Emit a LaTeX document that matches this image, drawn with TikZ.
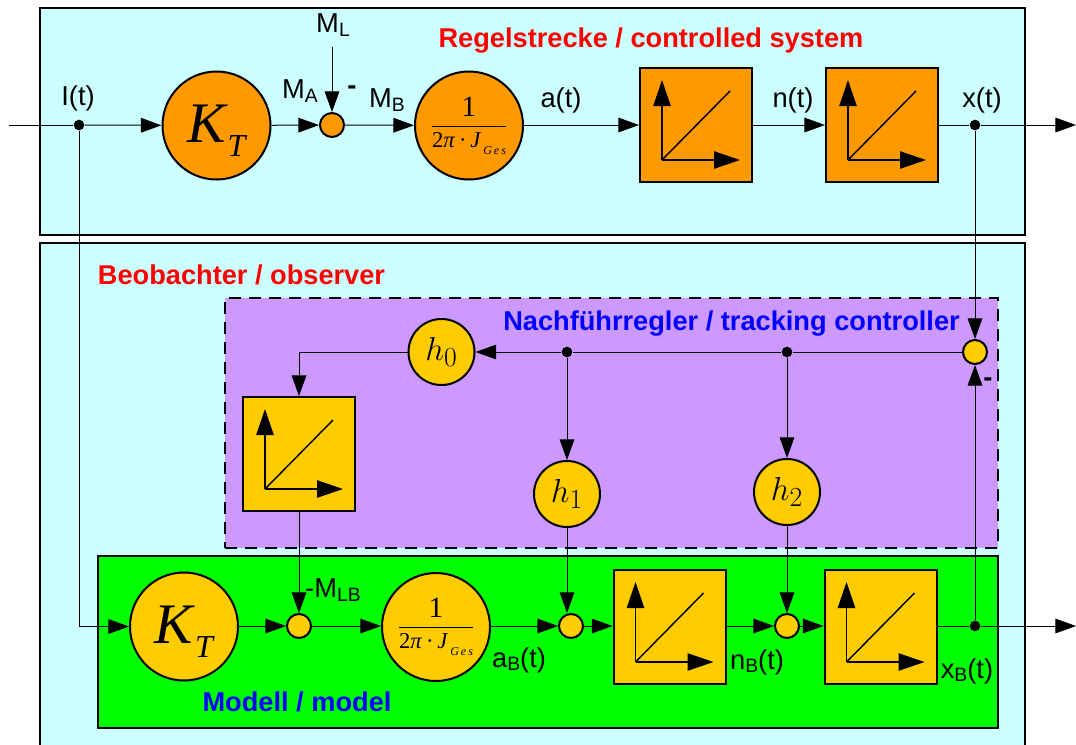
\documentclass[tikz,border=0pt]{standalone}
\usepackage{fontspec}
\usepackage{xcolor}
\usetikzlibrary{arrows.meta}
\setmainfont{Liberation Sans}
\newfontfamily\timesfont{Liberation Serif}
\definecolor{paleCyan}{HTML}{CCFFFF}
\definecolor{blockOrange}{HTML}{FF9900}
\definecolor{blockYellow}{HTML}{FFCC00}
\definecolor{paleViolet}{HTML}{CC99FF}
\definecolor{modelGreen}{HTML}{00FF00}
\newcommand{\sublabel}[3]{#1\raisebox{-2.5pt}{\fontsize{14.5}{14.5}\selectfont #2}#3}
\newcommand{\gainKT}{\raisebox{0pt}[25pt][0pt]{\timesfont\itshape\fontsize{43}{43}\selectfont K\kern1.5pt\raisebox{-10.5pt}{\fontsize{24}{24}\selectfont T}}}
\newcommand{\inertia}{\raisebox{2pt}{\timesfont\fontsize{17}{17}\selectfont$\displaystyle\frac{\hbox{\fontsize{22}{22}\selectfont 1}}{\hbox{2\textit{π}\,·\,\textit{J}\raisebox{-5pt}{\fontsize{9}{9}\selectfont\itshape\,G\,e\,s}}}$}}
\tikzset{
  wire/.style={line width=0.75pt, -{Triangle[length=15.5pt,width=11pt]}},
  plain/.style={line width=0.75pt},
  bigcircle/.style={draw, circle, line width=1.5pt, minimum size=81pt, inner sep=0pt},
  hcircle/.style={draw, circle, line width=1.5pt, minimum size=49.5pt, inner sep=0pt, fill=blockYellow},
  sumcircle/.style={draw, circle, line width=1.5pt, minimum size=18pt, inner sep=0pt},
  block/.style={draw, line width=1.5pt, minimum width=84pt, minimum height=85.5pt, inner sep=0pt},
  dotnode/.style={circle, fill=black, minimum size=8pt, inner sep=0pt},
  sig/.style={font=\fontsize{20.5}{20.5}\selectfont, inner sep=0pt},
  titletext/.style={font=\bfseries\fontsize{20.4}{20.4}\selectfont, inner sep=0pt}
}
\begin{document}
\begin{tikzpicture}[x=0.75pt, y=-0.75pt]
    \clip (0,0) rectangle (1076,744);
    % background areas
    \fill[white] (0,0) rectangle (1076,744);
    \node[draw, line width=1.5pt, fill=paleCyan, minimum width=739pt, minimum height=170.25pt]
      (strecke) at (532.5,121) {};
    \node[draw, line width=1.5pt, fill=paleCyan, minimum width=739pt, minimum height=390pt]
      (beob) at (532.5,503) {};
    \node[draw, line width=1.5pt, dash pattern=on 9pt off 6pt, fill=paleViolet,
      minimum width=579.75pt, minimum height=187.5pt] (regler) at (611.5,423) {};
    \node[draw, line width=1.5pt, fill=modelGreen, minimum width=675pt, minimum height=129pt]
      (modell) at (548,642) {};

    % controlled system
    \coordinate (inL) at (9,125);
    \node[dotnode] (dotI) at (79,125) {};
    \node[bigcircle, fill=blockOrange] (ktS) at (216.5,125.5) {\gainKT};
    \node[sumcircle, fill=blockOrange] (sumS) at (332,125) {};
    \node[bigcircle, fill=blockOrange] (jS) at (469,125.5) {\inertia};
    \node[block, fill=blockOrange] (intA) at (696,125) {};
    \node[block, fill=blockOrange] (intN) at (882,125) {};
    \node[dotnode] (dotX) at (975,125) {};
    \coordinate (outX) at (1076,125);
    \coordinate (loadM) at (332,47);

    % tracking controller
    \node[hcircle] (hzero) at (441.5,352) {\Huge$h_0$};
    \node[dotnode] (dotA) at (567,352) {};
    \node[dotnode] (dotB) at (787,352) {};
    \node[sumcircle, fill=blockYellow] (sumE) at (975,352) {};
    \node[hcircle] (hone) at (567,494) {\Huge$h_1$};
    \node[hcircle] (htwo) at (787,492) {\Huge$h_2$};
    \node[block, fill=blockYellow] (intObs) at (299,454) {};

    % model
    \node[bigcircle, fill=blockYellow] (ktM) at (184,626.5) {\gainKT};
    \node[sumcircle, fill=blockYellow] (sumM) at (299,626) {};
    \node[bigcircle, fill=blockYellow] (jM) at (436,627) {\inertia};
    \node[sumcircle, fill=blockYellow] (sumAB) at (571,626) {};
    \node[block, fill=blockYellow] (intAB) at (669.5,627) {};
    \node[sumcircle, fill=blockYellow] (sumNB) at (787,626) {};
    \node[block, fill=blockYellow] (intNB) at (880.5,627) {};
    \node[dotnode] (dotXB) at (975,626) {};
    \coordinate (outXB) at (1076,626);

    % the little characteristic inside each block
    \foreach \b in {intA,intN,intObs,intAB,intNB} {
      \draw[line width=1.1pt, -{Triangle[length=19.5pt,width=13pt]}]
        ([shift={(-34,35)}]\b.center) -- ([shift={(-34,-45)}]\b.center);
      \draw[line width=1.1pt, -{Triangle[length=19.5pt,width=13pt]}]
        ([shift={(-34,35)}]\b.center) -- ([shift={(44,35)}]\b.center);
      \draw[line width=1.1pt] ([shift={(-34,35)}]\b.center) -- ([shift={(34,-34)}]\b.center);
    }

    % upper path
    \draw[plain] (inL) -- (dotI);
    \draw[wire] (dotI) -- (ktS);
    \draw[wire] (ktS) -- (sumS);
    \draw[wire] (loadM) -- (sumS);
    \draw[wire] (sumS) -- (jS);
    \draw[wire] (jS.east |- intA) -- (intA);
    \draw[wire] (intA) -- (intN);
    \draw[plain] (intN) -- (dotX);
    \draw[wire] (dotX) -- (outX);

    % feedback
    \draw[wire] (dotX) -- (sumE);
    \draw[plain] (sumE) -- (dotB);
    \draw[plain] (dotB) -- (dotA);
    \draw[wire] (dotA) -- (hzero);
    \draw[wire] (hzero) -| (intObs);
    \draw[wire] (dotA) -- (hone);
    \draw[wire] (dotB) -- (htwo);
    \draw[wire] (intObs) -- (sumM);
    \draw[wire] (hone) -- (hone |- sumAB.north);
    \draw[wire] (htwo) -- (sumNB);
    \draw[wire] (dotXB) -- (sumE);

    % lower path
    \draw[wire] (dotI) |- (ktM);
    \draw[wire] (ktM.east |- sumM) -- (sumM);
    \draw[wire] (sumM) -- (jM.west |- sumM);
    \draw[wire] (jM.east |- sumAB) -- (sumAB);
    \draw[wire] (sumAB) -- (intAB.west |- sumAB);
    \draw[wire] (intAB.east |- sumNB) -- (sumNB);
    \draw[wire] (sumNB) -- (intNB.west |- sumNB);
    \draw[plain] (intNB.east |- dotXB) -- (dotXB);
    \draw[wire] (dotXB) -- (outXB);

    % labels
    \node[sig] (lblI) at (78,98) {I(t)};
    \node[sig] (lblMA) at (300,91) {\sublabel{M}{A}{}};
    \node[sig] (lblML) at (333,25) {\sublabel{M}{L}{}};
    \node[sig] (lblMinus) at (352,90) {\textbf{-}};
    \node[sig] (lblMB) at (387,100) {\sublabel{M}{B}{}};
    \node[sig] (lblA) at (561,100) {a(t)};
    \node[sig] (lblN) at (793,100) {n(t)};
    \node[sig] (lblX) at (982,100) {x(t)};
    \node[sig] (lblMLB) at (333,590) {-\sublabel{M}{LB}{}};
    \node[sig] (lblAB) at (519,660) {\sublabel{a}{B}{(t)}};
    \node[sig] (lblNB) at (757,662) {\sublabel{n}{B}{(t)}};
    \node[sig] (lblXB) at (967,671) {\sublabel{x}{B}{(t)}};
    \node[sig] (lblMinusE) at (988,382) {\textbf{-}};
    \node[titletext, text=red] (titleS) at (651,41) {Regelstrecke / controlled system};
    \node[titletext, text=red] (titleB) at (241.5,275) {Beobachter / observer};
    \node[titletext, text=blue] (titleR) at (731.5,324) {Nachführregler / tracking controller};
    \node[titletext, text=blue] (titleM) at (297,702) {Modell / model};
  \end{tikzpicture}
\end{document}
